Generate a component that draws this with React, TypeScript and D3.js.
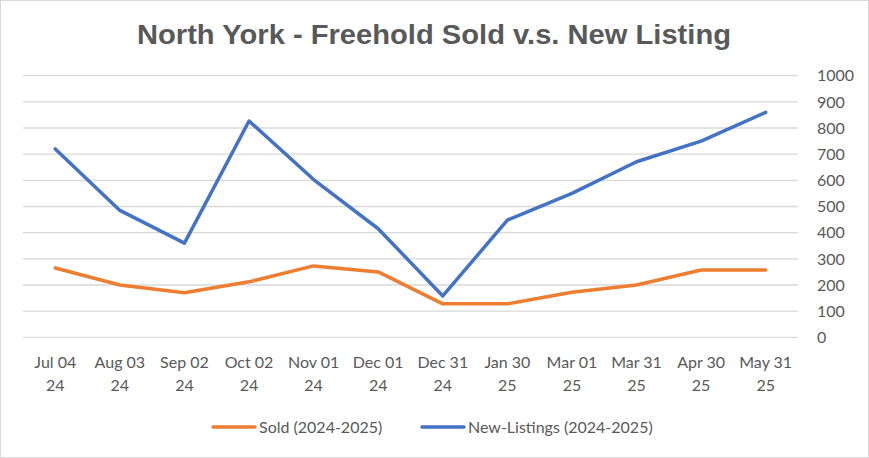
import * as d3 from "d3";
import React, { useEffect, useRef } from "react";

const categories = [
  "Jul 04 24",
  "Aug 03 24",
  "Sep 02 24",
  "Oct 02 24",
  "Nov 01 24",
  "Dec 01 24",
  "Dec 31 24",
  "Jan 30 25",
  "Mar 01 25",
  "Mar 31 25",
  "Apr 30 25",
  "May 31 25",
];
const soldValues = [265, 200, 170, 212, 273, 250, 128, 128, 172, 200, 257, 257];
const newListingValues = [720, 485, 360, 827, 603, 415, 158, 448, 550, 671, 750, 860];
const yTicks = [0, 100, 200, 300, 400, 500, 600, 700, 800, 900, 1000];

const seriesNames = ["Sold (2024-2025)", "New-Listings (2024-2025)"];
const seriesColors = ["#ED7D31", "#4472C4"];

const W = 869;
const H = 458;
const FONT = "Lato, 'Liberation Sans', sans-serif";

const App: React.FC = () => {
  const svgRef = useRef<SVGSVGElement>(null);

  useEffect(() => {
    const svg = d3.select(svgRef.current);
    svg.selectAll("*").remove();

    const plot = { left: 23, right: 798, top: 75.7, bottom: 337.3 };

    svg.append("rect").attr("x", 0.5).attr("y", 0.5).attr("width", W - 1).attr("height", H - 1)
      .attr("fill", "#fff").attr("stroke", "#D9D9D9");

    const x = d3.scalePoint<string>().domain(categories).range([plot.left, plot.right]).padding(0.5);
    const y = d3.scaleLinear().domain([0, 1000]).range([plot.bottom, plot.top]);

    // title
    svg.append("text")
      .attr("x", 434).attr("y", 44)
      .attr("text-anchor", "middle")
      .attr("font-family", "'Liberation Sans Narrow', 'Liberation Sans', Arial, sans-serif")
      .attr("font-weight", "bold")
      .attr("font-size", 28)
      .attr("fill", "#595959")
      .attr("textLength", 594)
      .attr("lengthAdjust", "spacingAndGlyphs")
      .text("North York - Freehold Sold v.s. New Listing");

    // grid
    svg.append("g").selectAll("line").data(yTicks).enter().append("line")
      .attr("x1", plot.left).attr("x2", plot.right)
      .attr("y1", (d) => y(d)).attr("y2", (d) => y(d))
      .attr("stroke", "#D9D9D9").attr("stroke-width", 1.3);

    // right axis labels
    svg.append("g").selectAll("text").data(yTicks).enter().append("text")
      .attr("x", 817).attr("y", (d) => y(d)).attr("dy", "0.36em")
      .attr("font-family", FONT).attr("font-size", 16).attr("fill", "#595959")
      .text((d) => String(d));

    // x labels
    const xl = svg.append("g").selectAll("text").data(categories).enter().append("text")
      .attr("text-anchor", "middle")
      .attr("font-family", FONT).attr("font-size", 16).attr("fill", "#595959");
    xl.append("tspan").attr("x", (d) => x(d)!).attr("y", 368).text((d) => d.slice(0, 6));
    xl.append("tspan").attr("x", (d) => x(d)!).attr("y", 391).text((d) => d.slice(7));

    const line = d3.line<number>()
      .x((_, i) => x(categories[i])!)
      .y((d) => y(d));

    [soldValues, newListingValues].forEach((vals, i) => {
      svg.append("path").datum(vals)
        .attr("d", line)
        .attr("fill", "none")
        .attr("stroke", seriesColors[i])
        .attr("stroke-width", 3.5)
        .attr("stroke-linejoin", "round")
        .attr("stroke-linecap", "round");
    });

    // legend
    const legendX = [213, 422];
    seriesNames.forEach((name, i) => {
      const g = svg.append("g");
      g.append("line")
        .attr("x1", legendX[i]).attr("x2", legendX[i] + 42)
        .attr("y1", 427).attr("y2", 427)
        .attr("stroke", seriesColors[i]).attr("stroke-width", 3.5).attr("stroke-linecap", "round");
      g.append("text")
        .attr("x", legendX[i] + 46).attr("y", 427).attr("dy", "0.36em")
        .attr("font-family", FONT).attr("font-size", 16).attr("fill", "#595959")
        .text(name);
    });
  }, []);

  return (
    <svg ref={svgRef} width={W} height={H} style={{ position: "absolute", left: 0, top: 0 }}></svg>
  );
};

export default App;
